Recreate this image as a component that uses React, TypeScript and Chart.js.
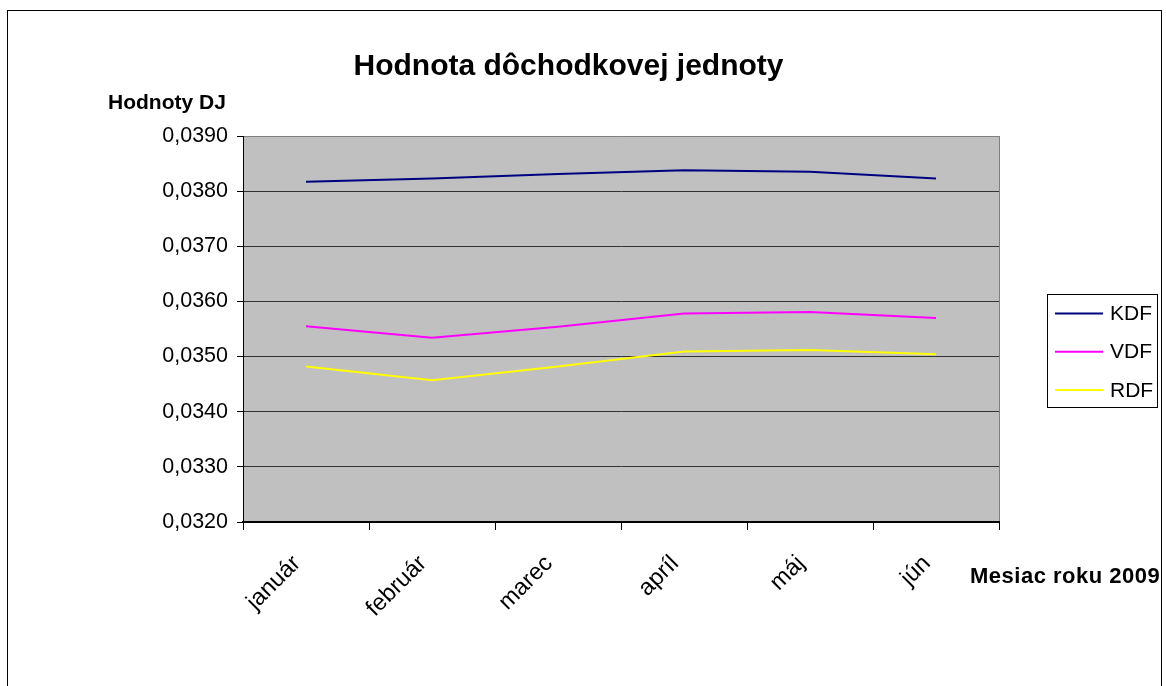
import React, { useEffect, useRef } from "react";
import { Chart, registerables } from "chart.js";

Chart.register(...registerables);

const months = ["január", "február", "marec", "apríl", "máj", "jún"];
const kdfValues = [0.03817, 0.03823, 0.03831, 0.03838, 0.03835, 0.03823];
const vdfValues = [0.03555, 0.03534, 0.03554, 0.03578, 0.03581, 0.0357];
const rdfValues = [0.03482, 0.03457, 0.03482, 0.03509, 0.03512, 0.03504];
const seriesNames = ["KDF", "VDF", "RDF"];
const yMin = 0.032;
const yMax = 0.039;
const yStep = 0.001;

const chartTitle = "Hodnota dôchodkovej jednoty";
const yTitle = "Hodnoty DJ";
const xTitle = "Mesiac roku 2009";

const FONT = "'Liberation Sans', Arial, sans-serif";

const decorPlugin = {
  id: "decor",
  beforeDraw(chart: any) {
    const { ctx, chartArea: a } = chart;
    ctx.save();
    ctx.fillStyle = "#ffffff";
    ctx.fillRect(0, 0, chart.width, chart.height);
    ctx.fillStyle = "#C0C0C0";
    ctx.fillRect(a.left, a.top, a.right - a.left, a.bottom - a.top);
    ctx.strokeStyle = "#808080";
    ctx.lineWidth = 1;
    ctx.beginPath();
    ctx.moveTo(a.right + 0.5, a.top);
    ctx.lineTo(a.right + 0.5, a.bottom);
    ctx.stroke();
    ctx.restore();
  },
  afterDraw(chart: any) {
    const { ctx } = chart;
    ctx.save();
    // outer frame
    ctx.strokeStyle = "#000";
    ctx.lineWidth = 1;
    ctx.strokeRect(7.5, 10.5, 1154, 720);

    // title
    ctx.fillStyle = "#000";
    ctx.font = `bold 30px ${FONT}`;
    ctx.textAlign = "center";
    ctx.textBaseline = "alphabetic";
    ctx.fillText(chartTitle, 568.5, 75);

    // y title
    ctx.font = `bold 21px ${FONT}`;
    ctx.textAlign = "left";
    ctx.fillText(yTitle, 108, 109);

    // x title
    ctx.font = `bold 22px ${FONT}`;
    ctx.textAlign = "left";
    try {
      (ctx as any).letterSpacing = "0.5px";
    } catch (e) {}
    ctx.fillText(xTitle, 970, 583);
    try {
      (ctx as any).letterSpacing = "0px";
    } catch (e) {}

    // legend
    ctx.strokeStyle = "#000";
    ctx.lineWidth = 1;
    ctx.strokeRect(1047.5, 294.5, 110, 113);
    ctx.font = `21px ${FONT}`;
    ctx.textBaseline = "middle";
    chart.data.datasets.forEach((ds: any, i: number) => {
      const y = 313.5 + i * 38.2;
      ctx.strokeStyle = ds.borderColor;
      ctx.lineWidth = 2;
      ctx.beginPath();
      ctx.moveTo(1055, y);
      ctx.lineTo(1103, y);
      ctx.stroke();
      ctx.fillStyle = "#000";
      ctx.fillText(ds.label, 1110, y + 1);
    });
    ctx.restore();
  },
};

export default function App() {
  const ref = useRef<HTMLCanvasElement | null>(null);

  useEffect(() => {
    if (!ref.current) return;
    const colors = ["#000080", "#FF00FF", "#FFFF00"];
    const values = [kdfValues, vdfValues, rdfValues];
    const chart = new Chart(ref.current, {
      type: "line",
      data: {
        labels: months,
        datasets: seriesNames.map((name, i) => ({
          label: name,
          data: values[i],
          borderColor: colors[i],
          backgroundColor: colors[i],
          borderWidth: 2,
          pointRadius: 0,
          tension: 0,
          fill: false,
        })),
      },
      options: {
        responsive: false,
        animation: false,
        devicePixelRatio: 1,
        layout: { padding: { top: 136, right: 167, bottom: 0, left: 0 } },
        plugins: {
          legend: { display: false },
          title: { display: false },
          tooltip: { enabled: false },
        },
        scales: {
          x: {
            offset: true,
            grid: {
              offset: true,
              drawOnChartArea: false,
              drawTicks: true,
              tickLength: 8,
              tickColor: "#000",
              color: "#000",
            },
            border: { color: "#000", width: 2 },
            ticks: {
              autoSkip: false,
              minRotation: 45,
              maxRotation: 45,
              padding: 20,
              labelOffset: -9,
              color: "#000",
              font: { family: FONT, size: 23.5 },
            },
            afterFit: (s: any) => {
              s.height = 164;
            },
          },
          y: {
            min: yMin,
            max: yMax,
            ticks: {
              stepSize: yStep,
              padding: 9,
              color: "#000",
              font: { family: FONT, size: 21.5 },
              callback: (v: any) => Number(v).toFixed(4).replace(".", ","),
            },
            grid: {
              color: (c: any) =>
                c.tick && c.tick.value > yMax - yStep / 10 ? "#808080" : "#333333",
              tickColor: "#000",
              tickLength: 6,
              lineWidth: 1,
            },
            border: { color: "#000", width: 1 },
            afterFit: (s: any) => {
              s.width = 243;
            },
          },
        },
      },
      plugins: [decorPlugin],
    } as any);
    return () => chart.destroy();
  }, []);

  return (
    <div style={{ position: "fixed", left: 0, top: 0, width: 1166, height: 686, background: "#fff" }}>
      <canvas ref={ref} width={1166} height={686} style={{ width: 1166, height: 686, display: "block" }} />
    </div>
  );
}
